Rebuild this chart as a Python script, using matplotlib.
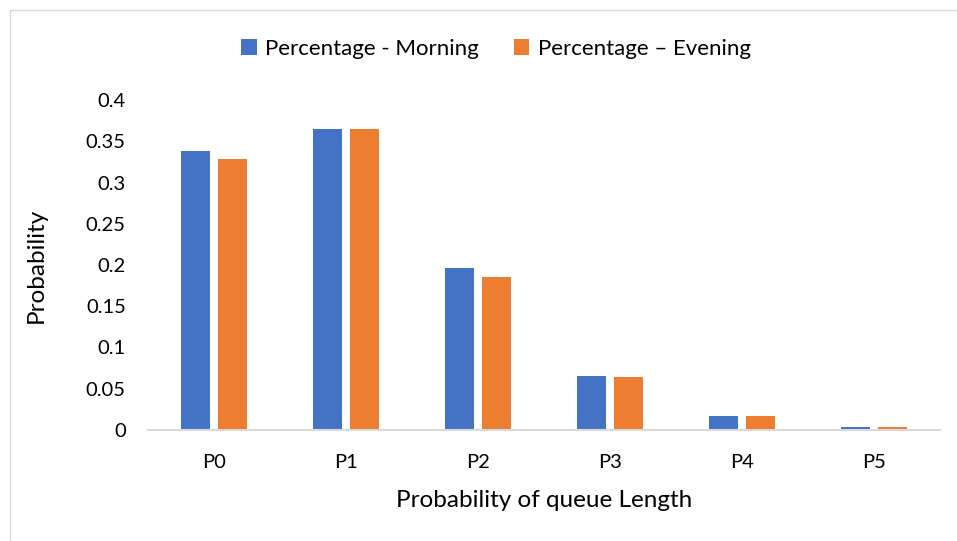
import numpy as np
import matplotlib.pyplot as plt
from matplotlib.patches import Rectangle

categories = ["P0", "P1", "P2", "P3", "P4", "P5"]
morning = [0.338, 0.365, 0.196, 0.066, 0.017, 0.0035]
evening = [0.329, 0.365, 0.185, 0.0645, 0.017, 0.0035]

BLUE = "#4472C4"
ORANGE = "#ED7D31"

plt.rcParams["font.family"] = ["Lato", "DejaVu Sans"]

W, H = 957, 541
fig = plt.figure(figsize=(W / 100, H / 100), dpi=100)

# chart area border (only left/top are visible in the crop)
fig.patches.append(Rectangle((10 / W, -0.05), 1.2, (H - 10) / H + 0.05,
                             transform=fig.transFigure, fill=False,
                             edgecolor="#D9D9D9", linewidth=1.0))

ax = fig.add_axes([148 / W, (H - 430) / H, (940 - 148) / W, 330 / H])

x = np.arange(len(categories))
w = 0.223
off = 0.142
ax.bar(x - off, morning, w, color=BLUE, label="Percentage - Morning")
ax.bar(x + off, evening, w, color=ORANGE, label="Percentage \u2013 Evening")

ax.set_xlim(-0.5, len(categories) - 0.5)
ax.set_ylim(0, 0.4)
ax.set_yticks(np.arange(0, 0.41, 0.05))
ax.set_yticklabels(["0", "0.05", "0.1", "0.15", "0.2", "0.25", "0.3", "0.35", "0.4"])
ax.set_xticks(x)
ax.set_xticklabels(categories)
ax.tick_params(axis="both", length=0, labelsize=14.5, colors="#000000")
ax.tick_params(axis="y", pad=16)
ax.tick_params(axis="x", pad=17)

for s in ["top", "right", "left"]:
    ax.spines[s].set_visible(False)
ax.spines["bottom"].set_color("#D9D9D9")
ax.spines["bottom"].set_linewidth(1.5)

ax.set_xlabel("Probability of queue Length", fontsize=17.5, labelpad=14)
ax.set_ylabel("Probability", fontsize=17.5, labelpad=28)

fig.legend(loc="center", bbox_to_anchor=(496 / W, 1 - 49 / H), ncol=2,
           frameon=False, fontsize=16, handlelength=0.7, handleheight=0.7,
           handletextpad=0.4, columnspacing=1.55)

fig.savefig("out.png", dpi=100)
